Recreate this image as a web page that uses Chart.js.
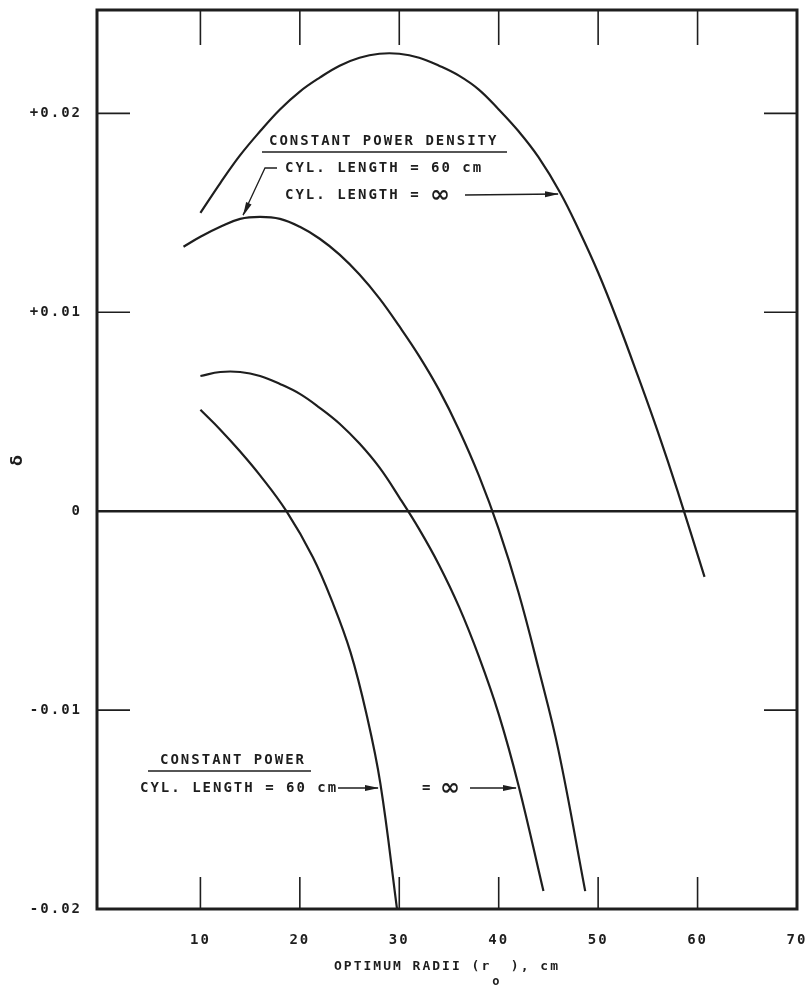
<!DOCTYPE html>
<html><head><meta charset="utf-8">
<script src="https://cdn.jsdelivr.net/npm/chart.js@4.4.1/dist/chart.umd.min.js"></script>
<style>html,body{margin:0;padding:0;background:#fff;}</style>
</head><body>
<canvas id="c" width="811" height="989"></canvas>
<script>
// ---- data ----
const xTickValues = [10, 20, 30, 40, 50, 60, 70];
const yTickValues = [-0.02, -0.01, 0, 0.01, 0.02];
const yTickLabels = ['-0.02', '-0.01', '0', '+0.01', '+0.02'];

// Constant power density, cylinder length = infinity
const cpdInfX = [10, 12, 14, 16, 18, 20, 22, 24, 26, 28, 30, 32, 34, 36, 38, 40, 42, 44, 46.2, 48, 50, 52, 54, 56, 58, 60.7];
const cpdInfY = [0.0150, 0.0165, 0.0179, 0.0191, 0.0202, 0.0211, 0.0218, 0.0224, 0.0228, 0.0230, 0.0230, 0.0228, 0.0224, 0.0219, 0.0212, 0.0202, 0.0191, 0.0178, 0.0160, 0.0142, 0.0120, 0.0095, 0.0068, 0.0040, 0.0010, -0.0033];
// Constant power density, cylinder length = 60 cm
const cpd60X = [8.3, 10, 12, 14, 16, 18, 20, 22, 24, 26, 28, 30, 32, 34, 36, 38, 40, 42, 44, 46, 48.7];
const cpd60Y = [0.0133, 0.0138, 0.0143, 0.0147, 0.0148, 0.0147, 0.0143, 0.0137, 0.0129, 0.0119, 0.0107, 0.0093, 0.0078, 0.0061, 0.0041, 0.0018, -0.0009, -0.0041, -0.0079, -0.0120, -0.0191];
// Constant power, cylinder length = infinity
const cpInfX = [10, 12, 14, 16, 18, 20, 22, 24, 26, 28, 30, 32, 34, 36, 38, 40, 42, 44.5];
const cpInfY = [0.0068, 0.0070, 0.0070, 0.0068, 0.0064, 0.0059, 0.0052, 0.0044, 0.0034, 0.0022, 0.0007, -0.0009, -0.0027, -0.0048, -0.0073, -0.0102, -0.0138, -0.0191];
// Constant power, cylinder length = 60 cm
const cp60X = [10, 12, 14, 16, 18.65, 21.3, 23.3, 25.1, 26.7, 28.1, 29.8];
const cp60Y = [0.0051, 0.0041, 0.0030, 0.0018, 0.0000, -0.0023, -0.0046, -0.0071, -0.0102, -0.0137, -0.0201];

const xTitle = 'OPTIMUM RADII (r  ), cm';
const yTitle = 'δ';

const pts = (xs, ys) => xs.map((x, i) => ({x, y: ys[i]}));
const INK = '#1e1e1e';
const FONT = "'DejaVu Sans Mono', monospace";

function seg(ctx, x1, y1, x2, y2) { ctx.beginPath(); ctx.moveTo(x1, y1); ctx.lineTo(x2, y2); ctx.stroke(); }
function arrowHead(ctx, fx, fy, tx, ty) {
  const a = Math.atan2(ty - fy, tx - fx), L = 14, W = 3;
  ctx.beginPath();
  ctx.moveTo(tx, ty);
  ctx.lineTo(tx - L * Math.cos(a) + W * Math.sin(a), ty - L * Math.sin(a) - W * Math.cos(a));
  ctx.lineTo(tx - L * Math.cos(a) - W * Math.sin(a), ty - L * Math.sin(a) + W * Math.cos(a));
  ctx.closePath(); ctx.fill();
}

const annot = {
  id: 'annot',
  beforeUpdate(chart) { chart.ctx.letterSpacing = '2px'; },
  beforeDraw(chart) { chart.ctx.letterSpacing = '2px'; },
  afterDraw(chart) {
    const {ctx, chartArea: a, scales: {x, y}} = chart;
    ctx.save();
    ctx.strokeStyle = INK; ctx.fillStyle = INK;
    // frame
    ctx.lineWidth = 3;
    ctx.strokeRect(a.left, a.top, a.right - a.left, a.bottom - a.top);
    // inward ticks
    ctx.lineWidth = 1.6;
    xTickValues.forEach(v => {
      if (v >= 70) return;
      const px = x.getPixelForValue(v);
      seg(ctx, px, a.top, px, a.top + 35);
      seg(ctx, px, a.bottom, px, a.bottom - 32);
    });
    yTickValues.forEach(v => {
      if (v === 0 || v === -0.02) return;
      const py = y.getPixelForValue(v);
      seg(ctx, a.left, py, a.left + 33, py);
      seg(ctx, a.right, py, a.right - 33, py);
    });
    // subscript o of the x title
    ctx.letterSpacing = '2px';
    ctx.font = "bold 13px " + FONT;
    const tw = ctx.measureText(xTitle).width;
    const pre = ctx.measureText('OPTIMUM RADII (r').width;
    const cx = (a.left + a.right) / 2;
    ctx.font = "bold 12px " + FONT;
    ctx.textAlign = 'left'; ctx.textBaseline = 'middle';
    ctx.fillText('o', cx - tw / 2 + pre + 1, 982);

    // annotation texts
    ctx.font = "bold 14px " + FONT;
    ctx.textAlign = 'left'; ctx.textBaseline = 'middle';
    ctx.fillText('CONSTANT POWER DENSITY', 269, 141);
    ctx.fillText('CYL. LENGTH = 60 cm', 285, 168);
    ctx.fillText('CYL. LENGTH = ', 285, 195);
    ctx.fillText('CONSTANT POWER', 160, 760);
    ctx.fillText('CYL. LENGTH = 60 cm', 140, 788);
    ctx.fillText('= ', 422, 788);
    ctx.font = "bold 24px 'DejaVu Sans', sans-serif";
    ctx.letterSpacing = '0px';
    ctx.fillText('∞', 430, 196);
    ctx.fillText('∞', 440, 789);

    // underlines
    ctx.lineWidth = 1.6;
    seg(ctx, 262, 152, 507, 152);
    seg(ctx, 148, 771, 311, 771);

    // leader / arrows
    ctx.lineWidth = 1.3;
    ctx.beginPath(); ctx.moveTo(277, 168); ctx.lineTo(265, 168); ctx.lineTo(243, 215); ctx.stroke();
    arrowHead(ctx, 265, 168, 243, 216);
    seg(ctx, 465, 195, 558, 194);
    arrowHead(ctx, 465, 195, 559, 194);
    seg(ctx, 338, 788, 378, 788);
    arrowHead(ctx, 338, 788, 379, 788);
    seg(ctx, 470, 788, 516, 788);
    arrowHead(ctx, 470, 788, 517, 788);
    ctx.restore();
  }
};

const ds = (xs, ys) => ({
  data: pts(xs, ys), showLine: true, borderColor: INK, borderWidth: 2.2,
  pointRadius: 0, fill: false, tension: 0.4
});

new Chart(document.getElementById('c'), {
  type: 'scatter',
  data: { datasets: [ds(cpdInfX, cpdInfY), ds(cpd60X, cpd60Y), ds(cpInfX, cpInfY), ds(cp60X, cp60Y)] },
  options: {
    responsive: false, animation: false, devicePixelRatio: 1,
    layout: { padding: { top: 10, right: 14, left: 0, bottom: 0 } },
    plugins: { legend: { display: false }, tooltip: { enabled: false } },
    scales: {
      x: {
        type: 'linear', min: -0.4, max: 70,
        afterBuildTicks: s => { s.ticks = xTickValues.map(v => ({value: v})); },
        afterFit: s => { s.height = 80; s.paddingLeft = 0; s.paddingRight = 0; },
        grid: { display: false, drawTicks: false },
        border: { display: false },
        ticks: { color: INK, padding: 23, maxRotation: 0, font: { family: FONT, size: 14, weight: 'bold' } },
        title: { display: true, text: xTitle, color: INK, padding: { top: 0, bottom: 15 }, font: { family: FONT, size: 13, weight: 'bold' } }
      },
      y: {
        type: 'linear', min: -0.02, max: 0.0252,
        afterBuildTicks: s => { s.ticks = yTickValues.map(v => ({value: v})); },
        afterFit: s => { s.width = 97; s.paddingTop = 0; s.paddingBottom = 0; },
        grid: { drawTicks: false, lineWidth: 2.5, color: c => (c.tick && c.tick.value === 0) ? INK : 'rgba(0,0,0,0)' },
        border: { display: false },
        ticks: { color: INK, padding: 15, font: { family: FONT, size: 14, weight: 'bold' },
          callback: v => { const i = yTickValues.indexOf(v); return i >= 0 ? yTickLabels[i] : ''; } },
        title: { display: true, text: yTitle, color: INK, padding: { top: 8, bottom: 0 }, font: { family: "'DejaVu Sans', sans-serif", size: 16, weight: 'bold' } }
      }
    }
  },
  plugins: [annot]
});
</script>
</body></html>
